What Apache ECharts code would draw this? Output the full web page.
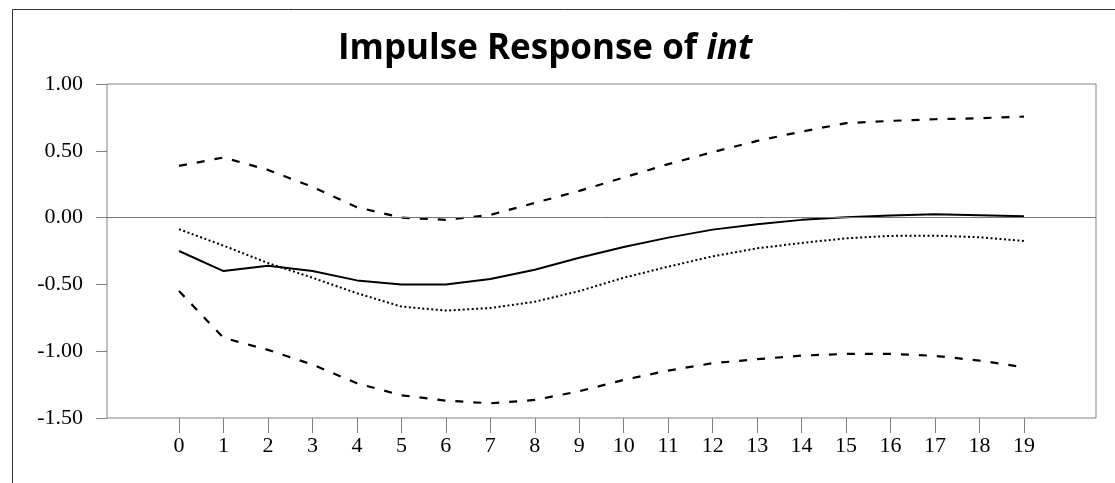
<!DOCTYPE html>
<html>
<head>
<meta charset="utf-8">
<script src="https://cdn.jsdelivr.net/npm/echarts@6/dist/echarts.min.js"></script>
<style>
  html, body { margin: 0; padding: 0; background: #fff; }
  #chart { width: 1115px; height: 483px; }
</style>
</head>
<body>
<div id="chart"></div>
<script>
// periods after the shock
const steps = [0, 1, 2, 3, 4, 5, 6, 7, 8, 9, 10, 11, 12, 13, 14, 15, 16, 17, 18, 19]
const yTicks = [-1.5, -1, -0.5, 0, 0.5, 1]

// response of int
const response = [-0.25, -0.40, -0.36, -0.40, -0.47, -0.50, -0.50, -0.46, -0.39, -0.30,
  -0.22, -0.15, -0.09, -0.05, -0.017, 0.003, 0.015, 0.025, 0.018, 0.01]
// confidence band
const upperBand = [0.387, 0.45, 0.357, 0.23, 0.078, 0.0, -0.017, 0.02, 0.11, 0.20,
  0.30, 0.40, 0.49, 0.574, 0.644, 0.707, 0.724, 0.736, 0.744, 0.756]
const lowerBand = [-0.55, -0.90, -0.99, -1.10, -1.24, -1.33, -1.37, -1.39, -1.365, -1.30,
  -1.215, -1.145, -1.09, -1.06, -1.033, -1.02, -1.02, -1.035, -1.07, -1.12]
// dotted line
const dottedLine = [-0.087, -0.21, -0.34, -0.45, -0.566, -0.666, -0.696, -0.677, -0.63, -0.55,
  -0.45, -0.367, -0.29, -0.23, -0.19, -0.155, -0.137, -0.135, -0.147, -0.175]

const pairs = vals => steps.map((s, i) => [s, vals[i]])

const serif = 'Liberation Serif'
const grey = '#808080'

const chart = echarts.init(document.getElementById('chart'))
chart.setOption({
  animation: false,
  title: {
    text: '{a|Impulse Response of }{b|int}',
    left: 333,
    top: 27,
    textStyle: {
      rich: {
        a: { fontFamily: 'Open Sans', fontWeight: 'bold', fontSize: 35, color: '#000' },
        b: { fontFamily: 'Open Sans', fontWeight: 'bold', fontStyle: 'italic', fontSize: 35, color: '#000' }
      }
    }
  },
  graphic: [{
    type: 'rect',
    left: 10,
    top: 7,
    shape: { width: 1200, height: 600 },
    style: { fill: 'none', stroke: '#333', lineWidth: 1 },
    silent: true
  }],
  grid: {
    left: 107,
    right: 19,
    top: 84,
    bottom: 65,
    show: true,
    borderColor: grey,
    borderWidth: 1
  },
  xAxis: {
    type: 'value',
    min: -1.62,
    max: 20.62,
    splitLine: { show: false },
    axisLine: { show: false, onZero: false },
    axisTick: {
      show: true,
      length: 15,
      customValues: steps,
      lineStyle: { color: grey }
    },
    axisLabel: {
      customValues: steps,
      margin: 17,
      fontFamily: serif,
      fontSize: 22,
      color: '#000'
    }
  },
  yAxis: {
    type: 'value',
    min: -1.5,
    max: 1,
    interval: 0.5,
    splitLine: { show: false },
    axisLine: { show: false, onZero: false },
    axisTick: {
      show: true,
      length: 11,
      customValues: yTicks,
      lineStyle: { color: grey }
    },
    axisLabel: {
      customValues: yTicks,
      margin: 24,
      fontFamily: serif,
      fontSize: 22,
      color: '#000',
      formatter: v => v.toFixed(2)
    }
  },
  series: [
    {
      name: 'upper',
      type: 'line',
      data: pairs(upperBand),
      showSymbol: false,
      lineStyle: { color: '#000', width: 2.2, type: [8, 10] }
    },
    {
      name: 'lower',
      type: 'line',
      data: pairs(lowerBand),
      showSymbol: false,
      lineStyle: { color: '#000', width: 2.2, type: [8, 10] }
    },
    {
      name: 'dotted',
      type: 'line',
      data: pairs(dottedLine),
      showSymbol: false,
      lineStyle: { color: '#000', width: 2, type: [2, 2.5] }
    },
    {
      name: 'response',
      type: 'line',
      data: pairs(response),
      showSymbol: false,
      lineStyle: { color: '#000', width: 2 },
      markLine: {
        silent: true,
        symbol: 'none',
        label: { show: false },
        lineStyle: { color: '#777', type: 'solid', width: 1 },
        data: [{ yAxis: 0 }]
      }
    }
  ]
})
</script>
</body>
</html>
